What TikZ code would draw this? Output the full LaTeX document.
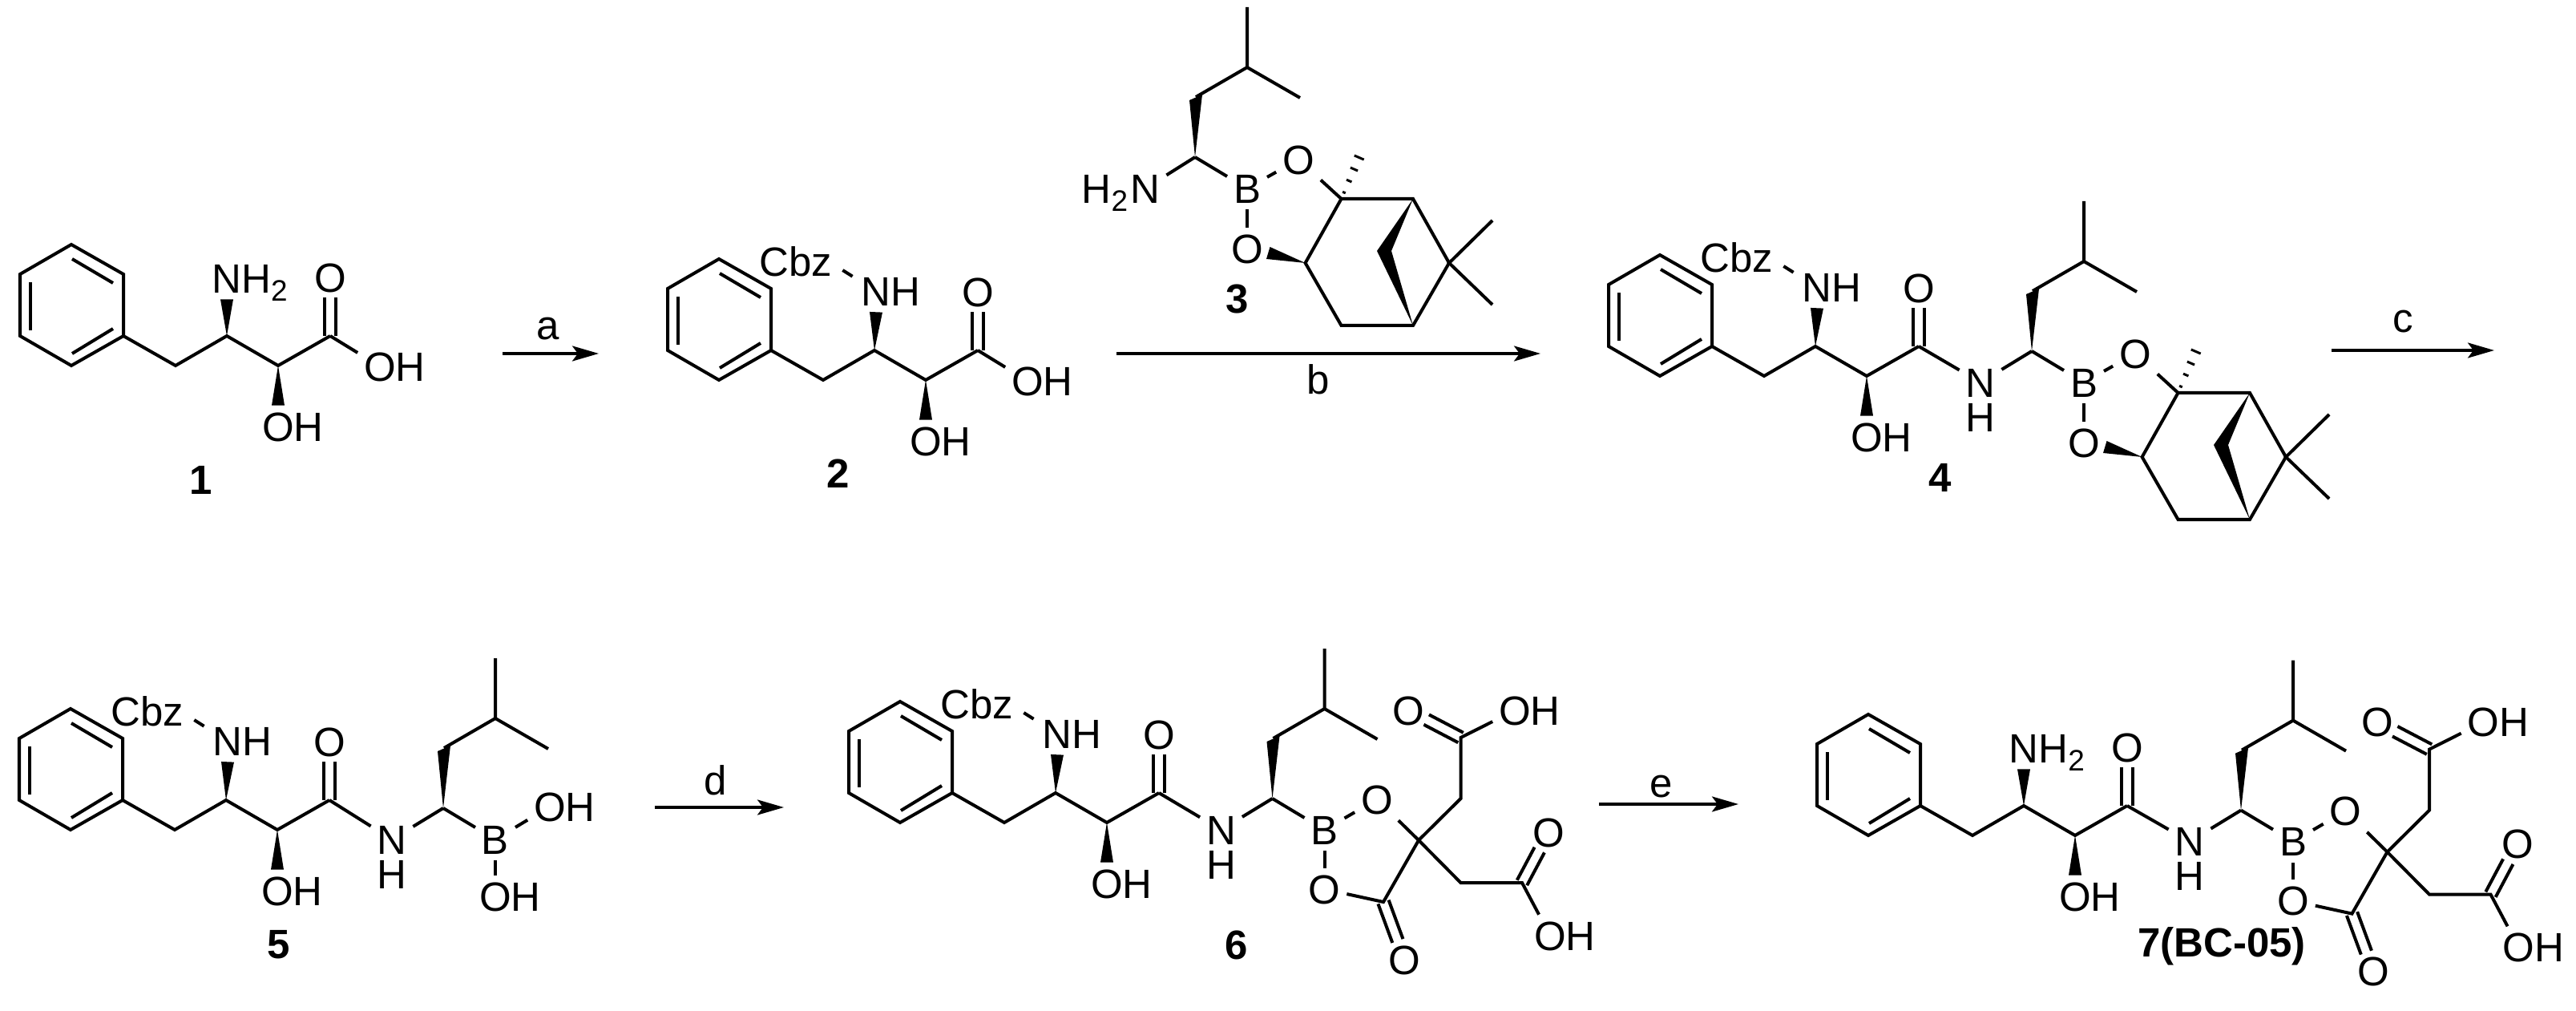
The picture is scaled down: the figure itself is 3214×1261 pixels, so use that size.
\documentclass[tikz,border=0pt]{standalone}
\usepackage{fontspec}
\usepackage{xcolor}
\setmainfont{Liberation Sans}
\usetikzlibrary{arrows.meta,calc}

\newcommand{\subtwo}{\raisebox{-2.8pt}{\fontsize{10.5}{11}\selectfont 2}}
\newcommand{\wedgebond}[2]{\fill (#1) -- ($(#2)!.08cm!90:(#1)$) -- ($(#2)!.08cm!-90:(#1)$) -- cycle;}
\newcommand{\dblbond}[2]{\draw[shorten >=.25cm] ($(#1)!.07cm!90:(#2)$) -- ($(#2)!.07cm!-90:(#1)$); \draw[shorten >=.25cm] ($(#1)!.07cm!-90:(#2)$) -- ($(#2)!.07cm!90:(#1)$);}
\newcommand{\hashbond}[2]{\foreach \t/\w in {.12/.02,.34/.035,.56/.05,.78/.065,1/.08} {\draw[line width=0.03cm] ($(#1)!\t!(#2)!\w cm!90:(#2)$) -- ($(#1)!\t!(#2)!\w cm!-90:(#2)$);}}

\tikzset{
  x=0.01cm,y=-0.01cm,
  bond/.style={line width=0.04cm},
  atom/.style={font=\fontsize{14.5}{16}\selectfont,inner sep=0.06cm,text height=10.4pt,text depth=0pt},
  cmpd/.style={font=\fontsize{14.5}{16}\selectfont\bfseries,inner sep=0pt,text height=10.4pt,text depth=0pt},
  reagent/.style={font=\fontsize{14.5}{16}\selectfont,inner sep=0pt,anchor=base},
  rxn/.style={line width=0.035cm,-{Stealth[length=0.33cm,width=0.19cm,inset=0.07cm]}},
  phchain/.pic={
    \coordinate (-r1) at (-194,-114);
    \coordinate (-r2) at (-129,-77);
    \coordinate (-r3) at (-129,0);
    \coordinate (-r4) at (-194,37);
    \coordinate (-r5) at (-258,0);
    \coordinate (-r6) at (-258,-77);
    \coordinate (-ch2) at (-64,37);
    \coordinate (-cn) at (0,0);
    \coordinate (-co) at (64,37);
    \coordinate (-cc) at (129,0);
    \draw (-r1) -- (-r2) -- (-r3) -- (-r4) -- (-r5) -- (-r6) -- cycle;
    \draw (-193,-96) -- (-142,-66);
    \draw (-142,-9) -- (-193,22);
    \draw (-245,-67) -- (-245,-7);
    \draw (-r3) -- (-ch2) -- (-cn) -- (-co) -- (-cc);
    \node[atom] (-oh) at (64,113) {O\rlap{H}};
    \wedgebond{-co}{-oh.north}
    \node[atom] (-o) at (129,-73) {O};
    \dblbond{-cc}{-o}
  },
  cbzamine/.pic={
    \node[atom] (-nh) at (2,-74) {N\rlap{H}};
    \node[atom] (-cbz) at (-98,-111) {Cbz};
    \wedgebond{0,0}{-nh.south}
    \draw ([xshift=.05cm,yshift=-.11cm]-cbz.east) -- ([xshift=-.03cm,yshift=-.08cm]-nh.north west);
  },
  freeamine/.pic={
    \node[atom] (-nh) at (0,-72) {N\rlap{H\subtwo}};
    \wedgebond{0,0}{-nh.south}
  },
  acid/.pic={
    \node[atom] (-oa) at (191,38) {O\rlap{H}};
    \draw (129,0) -- (-oa);
  },
  leucyl/.pic={
    \node[atom] (-b) at (0,0) {B};
    \coordinate (-ca) at (-65,-39);
    \coordinate (-ch2l) at (-64,-114);
    \coordinate (-chm) at (0,-151);
    \coordinate (-me1) at (0,-226);
    \coordinate (-me2) at (66,-113);
    \fill (-ca) -- (-72,-110) -- (-56,-117) -- cycle;
    \draw (-ch2l) -- (-chm) -- (-me1);
    \draw (-chm) -- (-me2);
    \draw (-ca) -- (-b);
  },
  amide/.pic={
    \node[atom] (-n) at (-129,0) {N};
    \node[atom,inner sep=0pt] (-h) at (-129,43) {H};
    \draw (-cc) -- (-n);
    \draw (-ca) -- (-n);
  },
  pinane/.pic={
    \node[atom] (-o1) at (64,-36) {O};
    \node[atom] (-o2) at (0,75) {O};
    \coordinate (-c1) at (117.5,13);
    \coordinate (-c2) at (207,13);
    \coordinate (-c3) at (252,93);
    \coordinate (-c4) at (207,171);
    \coordinate (-c5) at (117.5,171);
    \coordinate (-c6) at (72.6,93);
    \coordinate (-m1) at (306,40);
    \coordinate (-m2) at (306,145);
    \coordinate (-m3) at (146,-53);
    \draw (-b) -- (-o1);
    \draw (-b) -- (-o2);
    \draw (-o1) -- (-c1);
    \draw (-c1) -- (-c2) -- (-c3) -- (-c4) -- (-c5) -- (-c6) -- cycle;
    \draw (-m1) -- (-c3) -- (-m2);
    \fill (-c6) -- (28.5,73) -- (24,88) -- cycle;
    \fill (-c2) -- (162,78) -- (-c4) -- (180,78) -- cycle;
    \hashbond{-c1}{-m3}
  },
  citrate/.pic={
    \node[atom] (-o1) at (65.5,-38) {O};
    \node[atom] (-o2) at (0,74) {O};
    \coordinate (-cs) at (117.5,13);
    \coordinate (-c1) at (170,-39);
    \coordinate (-c2) at (170,-115);
    \coordinate (-c3) at (170,66);
    \coordinate (-c4) at (246.5,66);
    \coordinate (-c5) at (73.5,90);
    \node[atom] (-o3) at (105,-149) {O};
    \node[atom] (-o4) at (237.5,-149) {O\rlap{H}};
    \node[atom] (-o5) at (280,3) {O};
    \node[atom] (-o6) at (281.5,132) {O\rlap{H}};
    \node[atom] (-o7) at (100,162) {O};
    \draw (-b) -- (-o1);
    \draw (-b) -- (-o2);
    \draw (-o1) -- (-cs);
    \draw (-cs) -- (-c1) -- (-c2) -- (-o4);
    \draw (-cs) -- (-c3) -- (-c4) -- (-o6);
    \draw (-cs) -- (-c5) -- (-o2);
    \dblbond{-c2}{-o3}
    \dblbond{-c4}{-o5}
    \dblbond{-c5}{-o7}
  }
}

\begin{document}
\begin{tikzpicture}[bond]
\useasboundingbox (0,0) rectangle (3214,1261);

\pic (m1) at (283,419) {phchain};
\pic (m1) at (283,419) {freeamine};
\pic (m1) at (283,419) {acid};
\node[cmpd] (l1) at (251,598) {1};

\pic (m2) at (1091,437) {phchain};
\pic (m2) at (1091,437) {cbzamine};
\pic (m2) at (1091,437) {acid};
\node[cmpd] (l2) at (1046,590) {2};

\pic (m3) at (1556,235) {leucyl};
\pic (m3) at (1556,235) {pinane};
\node[atom] (m3-n) at (1429,235) {\llap{H\subtwo\kern1pt}N};
\draw (m3-ca) -- (m3-n);
\node[cmpd] (l3) at (1544,372) {3};

\pic (m4) at (2265,432) {phchain};
\pic (m4) at (2265,432) {cbzamine};
\pic (m4) at (2600,477) {leucyl};
\pic (m4) at (2600,477) {amide};
\pic (m4) at (2600,477) {pinane};
\node[cmpd] (l4) at (2421,595) {4};

\pic (m5) at (282,998) {phchain};
\pic (m5) at (282,998) {cbzamine};
\pic (m5) at (618,1047) {leucyl};
\pic (m5) at (618,1047) {amide};
\node[atom] (m5-o1) at (686,1006) {O\rlap{H}};
\node[atom] (m5-o2) at (618,1118) {O\rlap{H}};
\draw (m5-b) -- (m5-o1);
\draw (m5-b) -- (m5-o2);
\node[cmpd] (l5) at (348,1177) {5};

\pic (m6) at (1317,989) {phchain};
\pic (m6) at (1317,989) {cbzamine};
\pic (m6) at (1652.5,1035) {leucyl};
\pic (m6) at (1652.5,1035) {amide};
\pic (m6) at (1652.5,1035) {citrate};
\node[cmpd] (l6) at (1543,1178) {6};

\begin{scope}[shift={(2525,1005)},yscale=.97]
\pic (m7) at (0,0) {phchain};
\pic (m7) at (0,0) {freeamine};
\pic (m7) at (336,46) {leucyl};
\pic (m7) at (336,46) {amide};
\pic (m7) at (336,46) {citrate};
\end{scope}
\node[cmpd] (l7) at (2772,1175) {7(BC-05)};

\coordinate (a0) at (627,441);
\coordinate (a1) at (747,441);
\draw[rxn] (a0) -- (a1);
\node[reagent] (ra) at (684,424) {a};

\coordinate (b0) at (1393,441);
\coordinate (b1) at (1922,441);
\draw[rxn] (b0) -- (b1);
\node[reagent] (rb) at (1645,492) {b};

\coordinate (c0) at (2909,437);
\coordinate (c1) at (3112,437);
\draw[rxn] (c0) -- (c1);
\node[reagent] (rc) at (2998,415) {c};

\coordinate (d0) at (817,1007);
\coordinate (d1) at (978,1007);
\draw[rxn] (d0) -- (d1);
\node[reagent] (rd) at (893,991) {d};

\coordinate (e0) at (1995,1003);
\coordinate (e1) at (2169,1003);
\draw[rxn] (e0) -- (e1);
\node[reagent] (re) at (2073,994) {e};
\end{tikzpicture}
\end{document}
